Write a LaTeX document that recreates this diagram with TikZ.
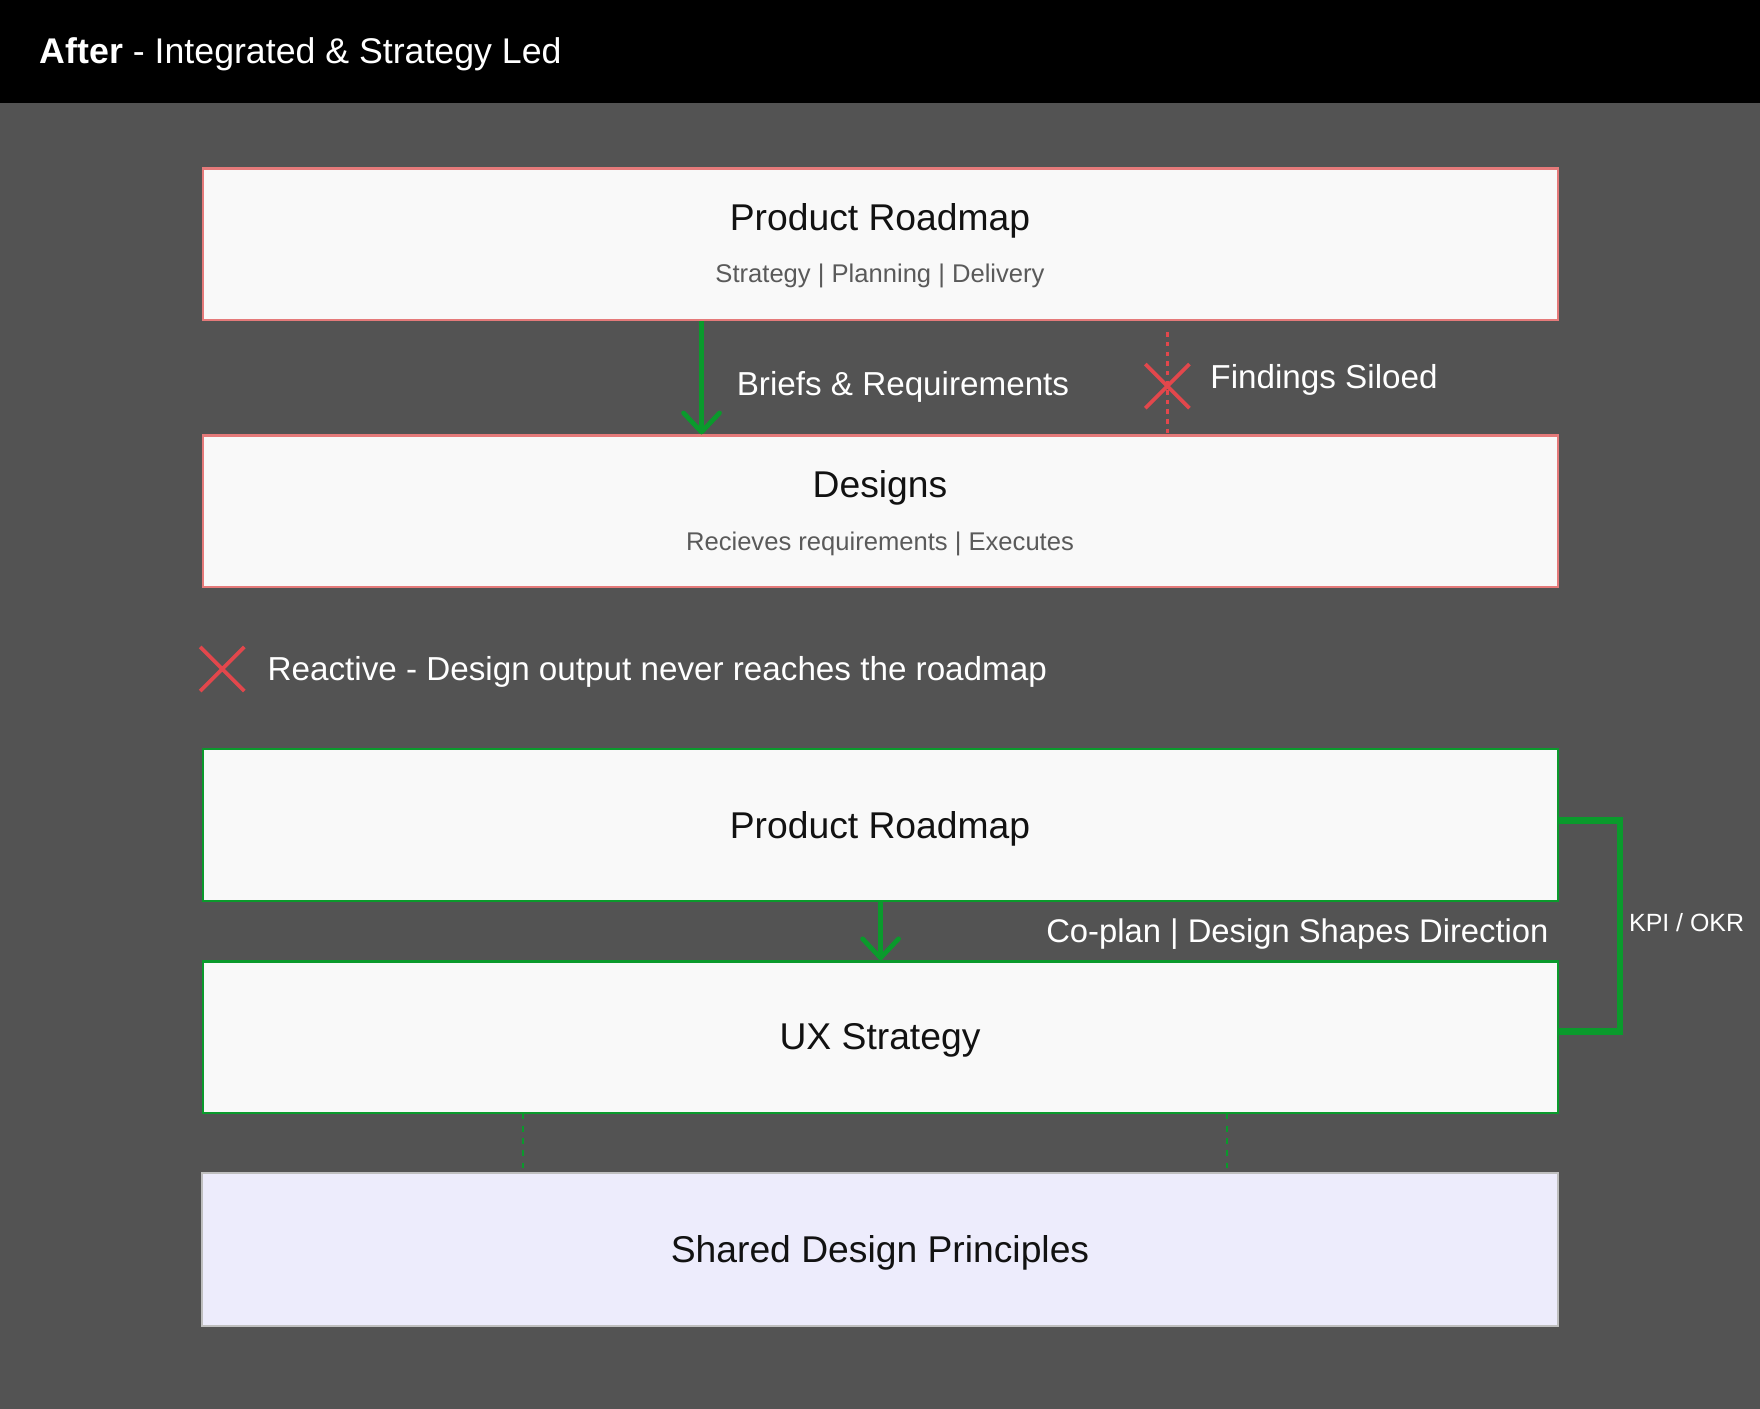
\documentclass[tikz,border=0pt]{standalone}
\usepackage{fontspec}
\setmainfont{Liberation Sans}
\usetikzlibrary{arrows.meta,positioning,shapes.misc}
\definecolor{bgdark}{HTML}{535353}
\definecolor{boxfill}{HTML}{F9F9F9}
\definecolor{redline}{HTML}{E57A7A}
\definecolor{redmark}{HTML}{E2474C}
\definecolor{greenline}{HTML}{0A9A2C}
\definecolor{lavender}{HTML}{EDECFC}
\definecolor{subgray}{HTML}{5A5A5A}
\tikzset{
  box/.style={draw, fill=boxfill, line width=1pt, minimum width=603.5pt, minimum height=67.5pt, inner sep=0pt},
  oldbox/.style={box, draw=redline},
  newbox/.style={box, draw=greenline},
  sharedbox/.style={box, fill=lavender, draw=black!25, line width=0.8pt, minimum width=604pt, minimum height=68pt},
  txt/.style={inner sep=0pt},
  titletext/.style={txt, font=\fontsize{16.6pt}{20pt}\selectfont, text=black!93},
  subtext/.style={txt, font=\fontsize{11.4pt}{14pt}\selectfont, text=subgray},
  flowtext/.style={txt, font=\fontsize{14.8pt}{18pt}\selectfont, text=white},
  kpitext/.style={txt, font=\fontsize{11.1pt}{13pt}\selectfont, text=white},
  gosolid/.style={greenline, line width=2.1pt, -{Straight Barb[length=8.5pt,width=16pt,round]}},
  nogo/.style={redmark, line width=1.3pt, dash pattern=on 2pt off 2.3pt},
  linkdots/.style={greenline, line width=1.1pt, dash pattern=on 2.4pt off 3pt},
  crossmark/.style={cross out, draw=redmark, line width=1.7pt, minimum size=18pt, inner sep=0pt},
  kpibracket/.style={greenline, line width=2.8pt, line join=miter}
}

\begin{document}
\begin{tikzpicture}[x=0.5pt,y=-0.5pt]
  % canvas and header
  \fill[bgdark] (0,0) rectangle (1568,1255);
  \fill[black] (0,0) rectangle (1568,92);
  \node[txt, anchor=base west, text=white, font=\fontsize{15.9pt}{19pt}\selectfont] (head) at (35,57) {\textbf{After} - Integrated \& Strategy Led};

  % before: siloed
  \node[oldbox] (roadA) at (784.5,217.5) {};
  \node[titletext, anchor=base] (roadAtitle) at (784,205) {Product Roadmap};
  \node[subtext, anchor=base] (roadAsub) at (784,252) {Strategy | Planning | Delivery};
  \node[oldbox] (designs) at (784.5,455.5) {};
  \node[titletext, anchor=base] (designstitle) at (784,443) {Designs};
  \node[subtext, anchor=base] (designssub) at (784,490) {Recieves requirements | Executes};

  \draw[gosolid] (roadA.south -| 625,0) -- (designs.north -| 625,0);
  \node[flowtext, anchor=base west] (briefs) at (656,352) {Briefs \& Requirements};
  \draw[nogo, shorten <=5pt] (roadA.south -| 1040,0) -- (designs.north -| 1040,0);
  \node[crossmark] (siloX) at (1040,344) {};
  \node[flowtext, anchor=base west] (siloed) at (1078,346) {Findings Siloed};

  \node[crossmark] (reactX) at (198,596) {};
  \node[flowtext, anchor=base west] (reactive) at (238,606) {Reactive - Design output never reaches the roadmap};

  % after: integrated
  \node[newbox] (roadB) at (784.5,735) {};
  \node[titletext, anchor=base] (roadBtitle) at (784,747) {Product Roadmap};
  \node[newbox] (ux) at (784.5,924) {};
  \node[titletext, anchor=base] (uxtitle) at (784,935) {UX Strategy};

  \draw[gosolid] (roadB.south) -- (ux.north);
  \node[flowtext, anchor=base east, font=\fontsize{14.6pt}{18pt}\selectfont] (coplan) at (1380,840) {Co-plan | Design Shapes Direction};

  \draw[kpibracket] ([yshift=2pt]roadB.east) -- ++(27pt,0) |- ([yshift=2.5pt]ux.east);
  \node[kpitext, anchor=base west] (kpi) at (1451,830) {KPI / OKR};

  \node[sharedbox] (shared) at (784,1113) {};
  \node[titletext, anchor=base] (sharedtitle) at (784,1125) {Shared Design Principles};
  \foreach \x in {466,1093} {
    \draw[linkdots] (ux.south -| \x,0) -- (shared.north -| \x,0);
  }
\end{tikzpicture}
\end{document}
